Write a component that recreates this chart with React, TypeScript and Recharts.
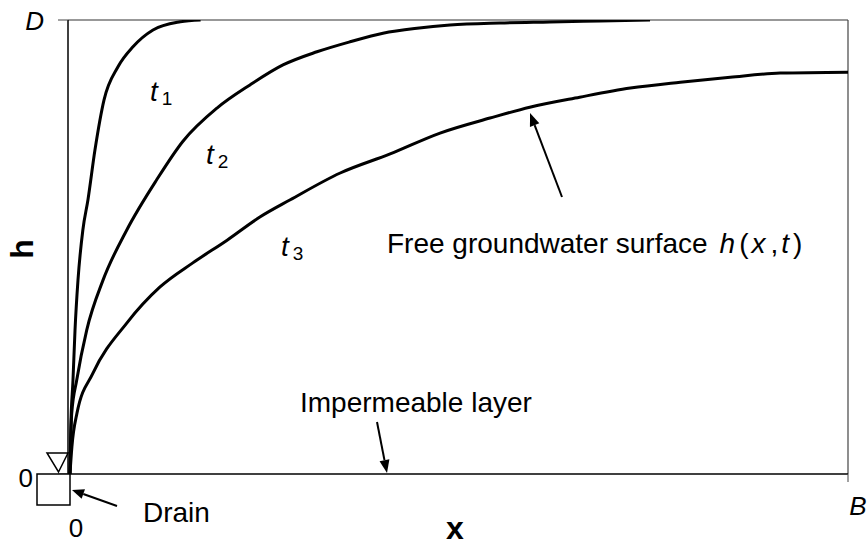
import React from "react"
import { LineChart, Line, XAxis, YAxis, ReferenceLine } from "recharts"

// water table profiles h(x, t) at three times, x and h scaled to 0..B and 0..D
const t1X = [0.0025, 0.0035, 0.0064, 0.009, 0.0128, 0.019, 0.0256, 0.0346, 0.0462, 0.0641, 0.0833, 0.109, 0.144, 0.17]
const t1H = [0, 0.097, 0.207, 0.317, 0.427, 0.537, 0.604, 0.714, 0.824, 0.897, 0.941, 0.978, 0.996, 1.0]

const t2X = [0.0025, 0.0048, 0.0112, 0.024, 0.0449, 0.0752, 0.1137, 0.1474, 0.191, 0.2333, 0.2756, 0.3192, 0.3615, 0.4038, 0.4474, 0.4897, 0.5538, 0.6179, 0.6821, 0.7462]
const t2H = [0, 0.134, 0.207, 0.317, 0.427, 0.537, 0.648, 0.733, 0.806, 0.857, 0.901, 0.93, 0.952, 0.971, 0.982, 0.989, 0.9934, 0.9956, 0.9978, 1.0]

const t3X = [0.0025, 0.005, 0.0115, 0.032, 0.0756, 0.118, 0.16, 0.204, 0.246, 0.285, 0.349, 0.413, 0.477, 0.541, 0.592, 0.656, 0.721, 0.785, 0.849, 0.913, 1.0]
const t3H = [0, 0.06, 0.134, 0.222, 0.333, 0.412, 0.465, 0.515, 0.566, 0.604, 0.663, 0.705, 0.751, 0.784, 0.808, 0.83, 0.85, 0.863, 0.874, 0.883, 0.885]

const xTicks = [0, 1]
const xTickLabels = ["0", "B"]
const yTicks = [0, 1]
const yTickLabels = ["0", "D"]

const toSeries = (xs: number[], hs: number[]) => xs.map((x, i) => ({ x, h: hs[i] }))

const curves = [
  { name: "t1", data: toSeries(t1X, t1H) },
  { name: "t2", data: toSeries(t2X, t2H) },
  { name: "t3", data: toSeries(t3X, t3H) },
]

const FONT = "'Liberation Sans', Arial, Helvetica, sans-serif"

const XTick = (props: any) => {
  const { x, y, payload } = props
  const i = xTicks.indexOf(payload.value)
  const isEnd = i === 1
  return (
    <text
      x={x + (isEnd ? 10 : 8)}
      y={y + (isEnd ? 31 : 53)}
      textAnchor="middle"
      fontFamily={FONT}
      fontSize={26}
      fontStyle={isEnd ? "italic" : "normal"}
      fill="#000"
    >
      {xTickLabels[i]}
    </text>
  )
}

const YTick = (props: any) => {
  const { x, y, payload } = props
  const i = yTicks.indexOf(payload.value)
  const isTop = i === 1
  return (
    <text
      x={x - (isTop ? 12 : 23)}
      y={y + (isTop ? 10 : 13)}
      textAnchor="end"
      fontFamily={FONT}
      fontSize={26}
      fontStyle={isTop ? "italic" : "normal"}
      fill="#000"
    >
      {yTickLabels[i]}
    </text>
  )
}

// straight arrow with a filled head at (x2, y2)
const Arrow = ({ x1, y1, x2, y2, head = 13, w = 5 }: any) => {
  const dx = x2 - x1
  const dy = y2 - y1
  const len = Math.hypot(dx, dy)
  const ux = dx / len
  const uy = dy / len
  const bx = x2 - ux * head
  const by = y2 - uy * head
  const pts = `${x2},${y2} ${bx - uy * w},${by + ux * w} ${bx + uy * w},${by - ux * w}`
  return (
    <g>
      <line x1={x1} y1={y1} x2={bx} y2={by} stroke="#000" strokeWidth={2} />
      <polygon points={pts} fill="#000" />
    </g>
  )
}

const TimeLabel = ({ x, y, n }: any) => (
  <text x={x} y={y} fontFamily={FONT} fill="#000">
    <tspan fontSize={28} fontStyle="italic">t</tspan>
    <tspan fontSize={19} dx={4} dy={4}>{n}</tspan>
  </text>
)

export default function App() {
  return (
    <div style={{ position: "relative", width: 868, height: 546, background: "#fff" }}>
      <style>{`body { margin: 0; }`}</style>
      <LineChart width={868} height={546} margin={{ top: 20, right: 20, bottom: 0, left: 0 }}>
        <XAxis
          type="number"
          dataKey="x"
          domain={[0, 1]}
          ticks={xTicks}
          height={72}
          tickSize={8}
          tickMargin={2}
          tick={<XTick />}
          axisLine={{ stroke: "#000", strokeWidth: 1.5 }}
          tickLine={{ stroke: "#444" }}
          allowDataOverflow
        />
        <YAxis
          type="number"
          domain={[0, 1]}
          ticks={yTicks}
          width={68}
          tickSize={10}
          tickMargin={2}
          tick={<YTick />}
          axisLine={{ stroke: "#000", strokeWidth: 1.5 }}
          tickLine={{ stroke: "#444" }}
          allowDataOverflow
        />
        <ReferenceLine y={1} stroke="#333" strokeWidth={1.2} />
        <ReferenceLine x={1} stroke="#444" strokeWidth={1.2} />
        {curves.map((c) => (
          <Line
            key={c.name}
            data={c.data}
            dataKey="h"
            type="monotone"
            stroke="#000"
            strokeWidth={3}
            dot={false}
            isAnimationActive={false}
          />
        ))}
      </LineChart>
      <svg
        width={868}
        height={546}
        style={{ position: "absolute", left: 0, top: 0, pointerEvents: "none" }}
      >
        <TimeLabel x={150} y={101} n="1" />
        <TimeLabel x={206} y={164} n="2" />
        <TimeLabel x={281} y={256} n="3" />

        <text x={387} y={253} fontFamily={FONT} fontSize={28} fill="#000">
          Free groundwater surface
          <tspan dx={12} fontStyle="italic">h</tspan>
          <tspan dx={4}>(</tspan>
          <tspan dx={3} fontStyle="italic">x</tspan>
          <tspan dx={5}>,</tspan>
          <tspan dx={3} fontStyle="italic">t</tspan>
          <tspan dx={4}>)</tspan>
        </text>
        <Arrow x1={562} y1={197} x2={530} y2={113} />

        <text x={300} y={412} fontFamily={FONT} fontSize={28} fill="#000">
          Impermeable layer
        </text>
        <Arrow x1={377} y1={422} x2={387} y2={473} />

        {/* drain with water level mark */}
        <rect x={37} y={474} width={33} height={31} fill="#fff" stroke="#000" strokeWidth={1.5} />
        <polygon points="47,453 68,453 58.5,472" fill="none" stroke="#000" strokeWidth={1.5} />
        <text x={143} y={522} fontFamily={FONT} fontSize={28} fill="#000">
          Drain
        </text>
        <Arrow x1={117} y1={506} x2={72} y2={490} head={12} />

        <text x={455} y={539} textAnchor="middle" fontFamily={FONT} fontSize={32} fontWeight="bold" fill="#000">
          x
        </text>
        <text
          x={33}
          y={249}
          textAnchor="middle"
          fontFamily={FONT}
          fontSize={32}
          fontWeight="bold"
          fill="#000"
          transform="rotate(-90, 33, 249)"
        >
          h
        </text>
      </svg>
    </div>
  )
}
